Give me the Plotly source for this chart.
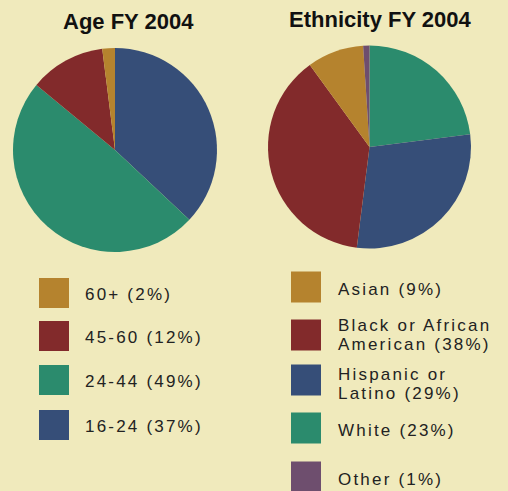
import plotly.graph_objects as go

W, H = 508, 491

# ---- data ----
age_labels = ["16-24", "24-44", "45-60", "60+"]
age_values = [37, 49, 12, 2]
age_colors = ["#364e78", "#2b8b6d", "#822a2b", "#b5832e"]
age_legend_order = ["60+", "45-60", "24-44", "16-24"]

eth_labels = ["White", "Hispanic or Latino", "Black or African American", "Asian", "Other"]
eth_values = [23, 29, 38, 9, 1]
eth_colors = ["#2b8b6d", "#364e78", "#822a2b", "#b5832e", "#6e4e6e"]
eth_legend_order = ["Asian", "Black or African American", "Hispanic or Latino", "White", "Other"]
eth_legend_lines = {
    "Asian": ["Asian (9%)"],
    "Black or African American": ["Black or African", "American (38%)"],
    "Hispanic or Latino": ["Hispanic or", "Latino (29%)"],
    "White": ["White (23%)"],
    "Other": ["Other (1%)"],
}

BG = "#f0eabc"
TXT = "#222222"


def px(x):
    return x / W


def py(y):
    return 1 - y / H


fig = go.Figure()
fig.add_trace(go.Pie(
    labels=age_labels, values=age_values, sort=False, direction="clockwise",
    rotation=0, marker=dict(colors=age_colors, line=dict(width=0)),
    textinfo="none", hoverinfo="label+percent",
    domain=dict(x=[13 / W, 217 / W], y=[py(252), py(48)]),
    showlegend=False,
))
fig.add_trace(go.Pie(
    labels=eth_labels, values=eth_values, sort=False, direction="clockwise",
    rotation=0, marker=dict(colors=eth_colors, line=dict(width=0)),
    textinfo="none", hoverinfo="label+percent",
    domain=dict(x=[268 / W, 471 / W], y=[py(249), py(45)]),
    showlegend=False,
))

shapes = []
annotations = []

# titles
annotations.append(dict(text="<b>Age FY 2004</b>", x=px(128), y=py(21), xref="paper", yref="paper",
                        showarrow=False, xanchor="center", yanchor="middle",
                        font=dict(family="Liberation Sans, Arial", size=22, color="#111111")))
annotations.append(dict(text="<b>Ethnicity FY 2004</b>", x=px(380), y=py(20), xref="paper", yref="paper",
                        showarrow=False, xanchor="center", yanchor="middle",
                        font=dict(family="Liberation Sans, Arial", size=22, color="#111111")))

LS = '<span style="letter-spacing:2.2px">{}</span>'
lfont = dict(family="Liberation Sans, Arial", size=17, color=TXT)

# Age legend
age_rows = [293, 336, 380, 425]
for name, cy in zip(age_legend_order, age_rows):
    i = age_labels.index(name)
    shapes.append(dict(type="rect", xref="paper", yref="paper",
                       x0=px(39), x1=px(69), y0=py(cy + 15), y1=py(cy - 15),
                       fillcolor=age_colors[i], line=dict(width=0)))
    annotations.append(dict(text=LS.format(f"{name} ({age_values[i]}%)"), x=px(83), y=py(cy + 1),
                            xref="paper", yref="paper", showarrow=False,
                            xanchor="left", yanchor="middle", font=lfont))

# Ethnicity legend
eth_rows = [287, 335, 380, 428, 477]
for name, cy in zip(eth_legend_order, eth_rows):
    i = eth_labels.index(name)
    shapes.append(dict(type="rect", xref="paper", yref="paper",
                       x0=px(291), x1=px(321), y0=py(cy + 15.5), y1=py(cy - 15.5),
                       fillcolor=eth_colors[i], line=dict(width=0)))
    lines = eth_legend_lines[name]
    if len(lines) == 1:
        ys = [cy + 2]
    else:
        ys = [cy - 9.5, cy + 9.5]
        if name == "Hispanic or Latino":
            ys = [cy - 6, cy + 13]
    for t, ty in zip(lines, ys):
        annotations.append(dict(text=LS.format(t), x=px(336), y=py(ty),
                                xref="paper", yref="paper", showarrow=False,
                                xanchor="left", yanchor="middle", font=lfont))

fig.update_layout(
    width=W, height=H, margin=dict(l=0, r=0, t=0, b=0),
    paper_bgcolor=BG, plot_bgcolor=BG,
    shapes=shapes, annotations=annotations,
)

fig.write_html("out.html", config={"displayModeBar": False},
               post_script="document.body.style.margin='0';document.body.style.overflow='hidden';document.body.style.background='" + BG + "';")
